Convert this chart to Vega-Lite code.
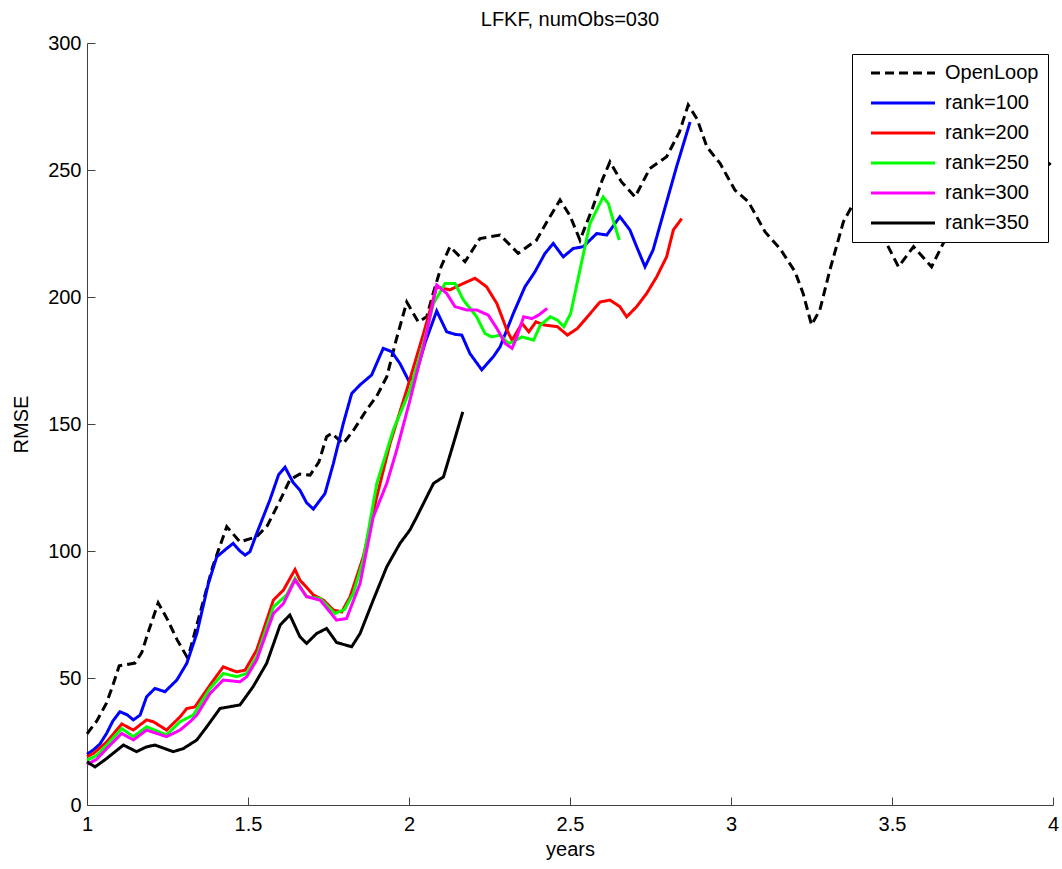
{
  "$schema": "https://vega.github.io/schema/vega-lite/v6.json",
  "width": 966,
  "height": 762,
  "autosize": "none",
  "padding": {"left": 87, "top": 43, "right": 9, "bottom": 64},
  "background": "white",
  "config": {
    "font": "Liberation Sans",
    "view": {"stroke": null}
  },
  "title": {"text": "LFKF, numObs=030", "fontSize": 20, "fontWeight": "normal", "font": "Liberation Sans", "anchor": "middle", "offset": 3, "color": "black"},
  "data": {"values": [
    {"s":"OpenLoop","x":1.0,"y":28},{"s":"OpenLoop","x":1.03,"y":33},{"s":"OpenLoop","x":1.06,"y":40},{"s":"OpenLoop","x":1.08,"y":47},{"s":"OpenLoop","x":1.10,"y":54.8},{"s":"OpenLoop","x":1.149,"y":55.9},{"s":"OpenLoop","x":1.17,"y":60},{"s":"OpenLoop","x":1.19,"y":68},{"s":"OpenLoop","x":1.221,"y":79.6},{"s":"OpenLoop","x":1.25,"y":73},{"s":"OpenLoop","x":1.28,"y":65},{"s":"OpenLoop","x":1.31,"y":58.4},{"s":"OpenLoop","x":1.32,"y":61},{"s":"OpenLoop","x":1.35,"y":75},{"s":"OpenLoop","x":1.39,"y":93.7},{"s":"OpenLoop","x":1.434,"y":109.6},{"s":"OpenLoop","x":1.475,"y":103.6},{"s":"OpenLoop","x":1.527,"y":105.6},{"s":"OpenLoop","x":1.56,"y":110},{"s":"OpenLoop","x":1.6,"y":120},{"s":"OpenLoop","x":1.63,"y":128},{"s":"OpenLoop","x":1.661,"y":130.3},{"s":"OpenLoop","x":1.693,"y":129.9},{"s":"OpenLoop","x":1.72,"y":135},{"s":"OpenLoop","x":1.744,"y":145},{"s":"OpenLoop","x":1.76,"y":146.3},{"s":"OpenLoop","x":1.796,"y":142.3},{"s":"OpenLoop","x":1.83,"y":148},{"s":"OpenLoop","x":1.868,"y":155.5},{"s":"OpenLoop","x":1.90,"y":161},{"s":"OpenLoop","x":1.931,"y":168.6},{"s":"OpenLoop","x":1.96,"y":183},{"s":"OpenLoop","x":1.993,"y":198},{"s":"OpenLoop","x":2.029,"y":190.2},{"s":"OpenLoop","x":2.055,"y":192.2},{"s":"OpenLoop","x":2.075,"y":201.4},{"s":"OpenLoop","x":2.1,"y":212},{"s":"OpenLoop","x":2.127,"y":219.8},{"s":"OpenLoop","x":2.174,"y":213.9},{"s":"OpenLoop","x":2.22,"y":223},{"s":"OpenLoop","x":2.283,"y":224.4},{"s":"OpenLoop","x":2.339,"y":217.2},{"s":"OpenLoop","x":2.396,"y":222.4},{"s":"OpenLoop","x":2.43,"y":230},{"s":"OpenLoop","x":2.469,"y":238.2},{"s":"OpenLoop","x":2.5,"y":232},{"s":"OpenLoop","x":2.531,"y":222.4},{"s":"OpenLoop","x":2.57,"y":235},{"s":"OpenLoop","x":2.6,"y":246},{"s":"OpenLoop","x":2.624,"y":253.2},{"s":"OpenLoop","x":2.66,"y":245.3},{"s":"OpenLoop","x":2.702,"y":239.4},{"s":"OpenLoop","x":2.748,"y":250.6},{"s":"OpenLoop","x":2.80,"y":255.2},{"s":"OpenLoop","x":2.84,"y":265},{"s":"OpenLoop","x":2.867,"y":275.6},{"s":"OpenLoop","x":2.895,"y":270},{"s":"OpenLoop","x":2.925,"y":259.1},{"s":"OpenLoop","x":2.966,"y":252.6},{"s":"OpenLoop","x":3.012,"y":242.1},{"s":"OpenLoop","x":3.054,"y":237.5},{"s":"OpenLoop","x":3.106,"y":225.6},{"s":"OpenLoop","x":3.152,"y":219.1},{"s":"OpenLoop","x":3.199,"y":209.9},{"s":"OpenLoop","x":3.224,"y":201.4},{"s":"OpenLoop","x":3.25,"y":189},{"s":"OpenLoop","x":3.276,"y":194.9},{"s":"OpenLoop","x":3.307,"y":210.6},{"s":"OpenLoop","x":3.349,"y":229.6},{"s":"OpenLoop","x":3.38,"y":236.8},{"s":"OpenLoop","x":3.42,"y":240},{"s":"OpenLoop","x":3.45,"y":231},{"s":"OpenLoop","x":3.483,"y":221.1},{"s":"OpenLoop","x":3.52,"y":211.9},{"s":"OpenLoop","x":3.567,"y":219.8},{"s":"OpenLoop","x":3.623,"y":211.9},{"s":"OpenLoop","x":3.659,"y":221.1},{"s":"OpenLoop","x":3.7,"y":232},{"s":"OpenLoop","x":3.75,"y":240},{"s":"OpenLoop","x":3.8,"y":245},{"s":"OpenLoop","x":3.85,"y":248},{"s":"OpenLoop","x":3.9,"y":250},{"s":"OpenLoop","x":3.95,"y":253},{"s":"OpenLoop","x":3.975,"y":253.9},{"s":"OpenLoop","x":4.0,"y":251.3},

    {"s":"rank=100","x":1.0,"y":20},{"s":"rank=100","x":1.02,"y":21.7},{"s":"rank=100","x":1.04,"y":24},{"s":"rank=100","x":1.061,"y":28.2},{"s":"rank=100","x":1.08,"y":33},{"s":"rank=100","x":1.102,"y":36.7},{"s":"rank=100","x":1.125,"y":35.5},{"s":"rank=100","x":1.144,"y":33.5},{"s":"rank=100","x":1.165,"y":35.4},{"s":"rank=100","x":1.185,"y":42.6},{"s":"rank=100","x":1.211,"y":45.9},{"s":"rank=100","x":1.242,"y":44.6},{"s":"rank=100","x":1.279,"y":49.2},{"s":"rank=100","x":1.31,"y":55.8},{"s":"rank=100","x":1.341,"y":67.5},{"s":"rank=100","x":1.377,"y":87.2},{"s":"rank=100","x":1.403,"y":97.7},{"s":"rank=100","x":1.434,"y":101},{"s":"rank=100","x":1.454,"y":103},{"s":"rank=100","x":1.475,"y":100},{"s":"rank=100","x":1.491,"y":98.4},{"s":"rank=100","x":1.506,"y":99.7},{"s":"rank=100","x":1.527,"y":106.9},{"s":"rank=100","x":1.568,"y":120.1},{"s":"rank=100","x":1.595,"y":130},{"s":"rank=100","x":1.615,"y":133},{"s":"rank=100","x":1.64,"y":127},{"s":"rank=100","x":1.661,"y":124},{"s":"rank=100","x":1.682,"y":119},{"s":"rank=100","x":1.703,"y":116.5},{"s":"rank=100","x":1.739,"y":122.6},{"s":"rank=100","x":1.765,"y":134.4},{"s":"rank=100","x":1.796,"y":150.2},{"s":"rank=100","x":1.822,"y":162},{"s":"rank=100","x":1.848,"y":165.4},{"s":"rank=100","x":1.884,"y":169.3},{"s":"rank=100","x":1.92,"y":179.8},{"s":"rank=100","x":1.946,"y":178.5},{"s":"rank=100","x":1.972,"y":173.8},{"s":"rank=100","x":1.998,"y":167.3},{"s":"rank=100","x":2.019,"y":168.6},{"s":"rank=100","x":2.05,"y":182},{"s":"rank=100","x":2.086,"y":194.5},{"s":"rank=100","x":2.117,"y":186.3},{"s":"rank=100","x":2.143,"y":185.3},{"s":"rank=100","x":2.164,"y":185},{"s":"rank=100","x":2.189,"y":177.8},{"s":"rank=100","x":2.226,"y":171.3},{"s":"rank=100","x":2.262,"y":176.5},{"s":"rank=100","x":2.283,"y":180.4},{"s":"rank=100","x":2.324,"y":193.5},{"s":"rank=100","x":2.36,"y":204},{"s":"rank=100","x":2.391,"y":209.9},{"s":"rank=100","x":2.422,"y":217.1},{"s":"rank=100","x":2.448,"y":221.1},{"s":"rank=100","x":2.479,"y":215.8},{"s":"rank=100","x":2.51,"y":219.1},{"s":"rank=100","x":2.541,"y":219.8},{"s":"rank=100","x":2.583,"y":225},{"s":"rank=100","x":2.614,"y":224.4},{"s":"rank=100","x":2.655,"y":231.6},{"s":"rank=100","x":2.686,"y":226.4},{"s":"rank=100","x":2.707,"y":219.8},{"s":"rank=100","x":2.733,"y":211.9},{"s":"rank=100","x":2.758,"y":218.5},{"s":"rank=100","x":2.79,"y":232.9},{"s":"rank=100","x":2.831,"y":251.3},{"s":"rank=100","x":2.873,"y":268.9},

    {"s":"rank=200","x":1.0,"y":19},{"s":"rank=200","x":1.02,"y":20.3},{"s":"rank=200","x":1.061,"y":24.8},{"s":"rank=200","x":1.108,"y":31.9},{"s":"rank=200","x":1.144,"y":29.5},{"s":"rank=200","x":1.185,"y":33.5},{"s":"rank=200","x":1.206,"y":32.8},{"s":"rank=200","x":1.247,"y":29.5},{"s":"rank=200","x":1.289,"y":34.7},{"s":"rank=200","x":1.31,"y":38},{"s":"rank=200","x":1.335,"y":38.6},{"s":"rank=200","x":1.382,"y":47.2},{"s":"rank=200","x":1.423,"y":54.4},{"s":"rank=200","x":1.465,"y":52.4},{"s":"rank=200","x":1.491,"y":53.1},{"s":"rank=200","x":1.527,"y":61},{"s":"rank=200","x":1.579,"y":80.7},{"s":"rank=200","x":1.61,"y":84.6},{"s":"rank=200","x":1.646,"y":92.7},{"s":"rank=200","x":1.661,"y":88.6},{"s":"rank=200","x":1.703,"y":82.7},{"s":"rank=200","x":1.734,"y":80.7},{"s":"rank=200","x":1.765,"y":76.8},{"s":"rank=200","x":1.791,"y":76},{"s":"rank=200","x":1.817,"y":82},{"s":"rank=200","x":1.858,"y":97.7},{"s":"rank=200","x":1.9,"y":121.4},{"s":"rank=200","x":1.941,"y":142.3},{"s":"rank=200","x":1.993,"y":163.4},{"s":"rank=200","x":2.045,"y":185.6},{"s":"rank=200","x":2.086,"y":204},{"s":"rank=200","x":2.127,"y":202.8},{"s":"rank=200","x":2.158,"y":204.7},{"s":"rank=200","x":2.205,"y":207.4},{"s":"rank=200","x":2.241,"y":204},{"s":"rank=200","x":2.273,"y":197.4},{"s":"rank=200","x":2.304,"y":187},{"s":"rank=200","x":2.32,"y":183},{"s":"rank=200","x":2.351,"y":189.6},{"s":"rank=200","x":2.372,"y":186.3},{"s":"rank=200","x":2.394,"y":190.2},{"s":"rank=200","x":2.42,"y":189},{"s":"rank=200","x":2.461,"y":188.3},{"s":"rank=200","x":2.492,"y":185},{"s":"rank=200","x":2.523,"y":187.6},{"s":"rank=200","x":2.554,"y":192.2},{"s":"rank=200","x":2.593,"y":198},{"s":"rank=200","x":2.624,"y":198.8},{"s":"rank=200","x":2.655,"y":196.2},{"s":"rank=200","x":2.676,"y":192.2},{"s":"rank=200","x":2.707,"y":196.2},{"s":"rank=200","x":2.738,"y":201.4},{"s":"rank=200","x":2.769,"y":207.9},{"s":"rank=200","x":2.80,"y":215.8},{"s":"rank=200","x":2.821,"y":226.4},{"s":"rank=200","x":2.847,"y":230.9},

    {"s":"rank=250","x":1.0,"y":17.6},{"s":"rank=250","x":1.03,"y":19.5},{"s":"rank=250","x":1.061,"y":23.6},{"s":"rank=250","x":1.108,"y":30.1},{"s":"rank=250","x":1.144,"y":26.9},{"s":"rank=250","x":1.185,"y":30.8},{"s":"rank=250","x":1.247,"y":27.6},{"s":"rank=250","x":1.289,"y":32.8},{"s":"rank=250","x":1.33,"y":35.4},{"s":"rank=250","x":1.382,"y":45.9},{"s":"rank=250","x":1.423,"y":51.8},{"s":"rank=250","x":1.465,"y":50.5},{"s":"rank=250","x":1.496,"y":51.8},{"s":"rank=250","x":1.527,"y":58.4},{"s":"rank=250","x":1.579,"y":78},{"s":"rank=250","x":1.62,"y":82.7},{"s":"rank=250","x":1.646,"y":89.2},{"s":"rank=250","x":1.682,"y":82},{"s":"rank=250","x":1.724,"y":81.3},{"s":"rank=250","x":1.77,"y":75.4},{"s":"rank=250","x":1.8,"y":77},{"s":"rank=250","x":1.827,"y":83.3},{"s":"rank=250","x":1.858,"y":96.5},{"s":"rank=250","x":1.9,"y":126.6},{"s":"rank=250","x":1.951,"y":147.6},{"s":"rank=250","x":2.003,"y":163.4},{"s":"rank=250","x":2.045,"y":181.8},{"s":"rank=250","x":2.076,"y":197.4},{"s":"rank=250","x":2.112,"y":205.3},{"s":"rank=250","x":2.143,"y":205.3},{"s":"rank=250","x":2.169,"y":198.8},{"s":"rank=250","x":2.21,"y":192.2},{"s":"rank=250","x":2.236,"y":185.6},{"s":"rank=250","x":2.257,"y":184.3},{"s":"rank=250","x":2.283,"y":185},{"s":"rank=250","x":2.309,"y":181.7},{"s":"rank=250","x":2.324,"y":182.4},{"s":"rank=250","x":2.351,"y":184.3},{"s":"rank=250","x":2.387,"y":183},{"s":"rank=250","x":2.408,"y":189},{"s":"rank=250","x":2.439,"y":192.2},{"s":"rank=250","x":2.461,"y":190.9},{"s":"rank=250","x":2.481,"y":188.3},{"s":"rank=250","x":2.502,"y":193.5},{"s":"rank=250","x":2.533,"y":211.9},{"s":"rank=250","x":2.562,"y":228.9},{"s":"rank=250","x":2.603,"y":239.4},{"s":"rank=250","x":2.619,"y":236.8},{"s":"rank=250","x":2.634,"y":230.3},{"s":"rank=250","x":2.653,"y":222.4},

    {"s":"rank=300","x":1.0,"y":16},{"s":"rank=300","x":1.03,"y":18},{"s":"rank=300","x":1.061,"y":22.2},{"s":"rank=300","x":1.108,"y":28.2},{"s":"rank=300","x":1.144,"y":25.6},{"s":"rank=300","x":1.185,"y":29.5},{"s":"rank=300","x":1.247,"y":26.9},{"s":"rank=300","x":1.289,"y":29.5},{"s":"rank=300","x":1.32,"y":32.8},{"s":"rank=300","x":1.341,"y":35.4},{"s":"rank=300","x":1.382,"y":43.9},{"s":"rank=300","x":1.423,"y":49.2},{"s":"rank=300","x":1.475,"y":48.5},{"s":"rank=300","x":1.496,"y":50.5},{"s":"rank=300","x":1.527,"y":57.1},{"s":"rank=300","x":1.579,"y":75.4},{"s":"rank=300","x":1.61,"y":79.3},{"s":"rank=300","x":1.646,"y":88.6},{"s":"rank=300","x":1.682,"y":82},{"s":"rank=300","x":1.724,"y":80.7},{"s":"rank=300","x":1.775,"y":72.8},{"s":"rank=300","x":1.806,"y":73.4},{"s":"rank=300","x":1.848,"y":87.2},{"s":"rank=300","x":1.889,"y":113.4},{"s":"rank=300","x":1.931,"y":126.6},{"s":"rank=300","x":1.962,"y":139.8},{"s":"rank=300","x":2.003,"y":159.4},{"s":"rank=300","x":2.045,"y":180.4},{"s":"rank=300","x":2.086,"y":204.7},{"s":"rank=300","x":2.117,"y":201.4},{"s":"rank=300","x":2.143,"y":196.2},{"s":"rank=300","x":2.179,"y":194.9},{"s":"rank=300","x":2.21,"y":194.9},{"s":"rank=300","x":2.246,"y":192.9},{"s":"rank=300","x":2.273,"y":187.6},{"s":"rank=300","x":2.299,"y":181.7},{"s":"rank=300","x":2.32,"y":179.8},{"s":"rank=300","x":2.335,"y":184.3},{"s":"rank=300","x":2.356,"y":192.2},{"s":"rank=300","x":2.382,"y":191.5},{"s":"rank=300","x":2.403,"y":192.9},{"s":"rank=300","x":2.429,"y":195.5},

    {"s":"rank=350","x":1.0,"y":17},{"s":"rank=350","x":1.025,"y":15},{"s":"rank=350","x":1.061,"y":18.3},{"s":"rank=350","x":1.113,"y":23.6},{"s":"rank=350","x":1.154,"y":21},{"s":"rank=350","x":1.185,"y":22.9},{"s":"rank=350","x":1.211,"y":23.6},{"s":"rank=350","x":1.268,"y":21},{"s":"rank=350","x":1.299,"y":22.2},{"s":"rank=350","x":1.341,"y":25.6},{"s":"rank=350","x":1.372,"y":30.8},{"s":"rank=350","x":1.413,"y":38},{"s":"rank=350","x":1.475,"y":39.4},{"s":"rank=350","x":1.516,"y":46.6},{"s":"rank=350","x":1.558,"y":55.8},{"s":"rank=350","x":1.6,"y":70.9},{"s":"rank=350","x":1.63,"y":74.8},{"s":"rank=350","x":1.661,"y":66.3},{"s":"rank=350","x":1.682,"y":63.6},{"s":"rank=350","x":1.713,"y":67.5},{"s":"rank=350","x":1.744,"y":69.5},{"s":"rank=350","x":1.775,"y":64},{"s":"rank=350","x":1.822,"y":62.3},{"s":"rank=350","x":1.848,"y":67.5},{"s":"rank=350","x":1.889,"y":80.7},{"s":"rank=350","x":1.931,"y":93.8},{"s":"rank=350","x":1.972,"y":103},{"s":"rank=350","x":2.003,"y":108.3},{"s":"rank=350","x":2.024,"y":113.4},{"s":"rank=350","x":2.076,"y":126.6},{"s":"rank=350","x":2.107,"y":129.2},{"s":"rank=350","x":2.138,"y":142.3},{"s":"rank=350","x":2.167,"y":154.8}
  ]},
  "mark": {"type": "line", "strokeWidth": 3, "interpolate": "linear"},
  "encoding": {
    "x": {"field": "x", "type": "quantitative", "scale": {"domain": [1, 4], "nice": false}, "axis": {"title": "years", "values": [1, 1.5, 2, 2.5, 3, 3.5, 4], "format": "~g", "grid": false, "tickSize": -8, "labelPadding": 17, "titlePadding": 5, "labelFlush": false, "labelFont": "Liberation Sans", "labelFontSize": 20, "labelColor": "black", "titleFont": "Liberation Sans", "titleFontSize": 20, "titleFontWeight": "normal", "titleColor": "black", "domainColor": "#404040", "tickColor": "#404040"}},
    "y": {"field": "y", "type": "quantitative", "scale": {"domain": [0, 300], "nice": false}, "axis": {"title": "RMSE", "values": [0, 50, 100, 150, 200, 250, 300], "grid": false, "tickSize": -8, "labelPadding": 14, "titlePadding": 16, "labelFlush": false, "labelFont": "Liberation Sans", "labelFontSize": 20, "labelColor": "black", "titleFont": "Liberation Sans", "titleFontSize": 20, "titleFontWeight": "normal", "titleColor": "black", "domainColor": "#404040", "tickColor": "#404040"}},
    "color": {"field": "s", "type": "nominal", "scale": {"domain": ["OpenLoop", "rank=100", "rank=200", "rank=250", "rank=300", "rank=350"], "range": ["black", "#0000ff", "#ff0000", "#00ff00", "#ff00ff", "black"]},
      "legend": {"title": null, "orient": "none", "legendX": 765, "legendY": 11, "fillColor": "white", "strokeColor": "black", "padding": 9, "symbolOffset": 32, "symbolType": "M-4,0H4", "symbolSize": 256, "symbolStrokeWidth": 3, "labelFontSize": 20, "labelFont": "Liberation Sans", "labelColor": "black", "labelOffset": 32, "rowPadding": 10}},
    "strokeDash": {"field": "s", "type": "nominal", "scale": {"domain": ["OpenLoop", "rank=100", "rank=200", "rank=250", "rank=300", "rank=350"], "range": [[9, 5], [1, 0], [1, 0], [1, 0], [1, 0], [1, 0]]}, "legend": {"title": null}},
    "order": {"field": "x", "type": "quantitative"}
  }
}
